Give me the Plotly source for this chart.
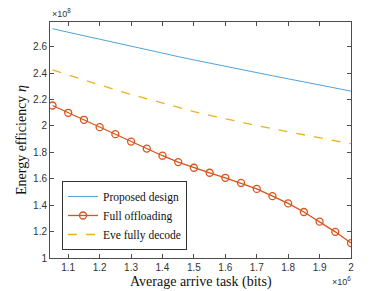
import plotly.graph_objects as go

# Average arrive task (x 10^6 bits)
task = [1.05, 1.10, 1.15, 1.20, 1.25, 1.30, 1.35, 1.40, 1.45, 1.50,
        1.55, 1.60, 1.65, 1.70, 1.75, 1.80, 1.85, 1.90, 1.95, 2.00]

# Energy efficiency (x 10^8)
proposed = [2.735, 2.708, 2.681, 2.654, 2.628, 2.602, 2.576, 2.550, 2.524, 2.499,
            2.474, 2.450, 2.426, 2.402, 2.379, 2.356, 2.333, 2.310, 2.286, 2.263]
full_off = [2.154, 2.099, 2.046, 1.990, 1.937, 1.881, 1.828, 1.774, 1.726, 1.683,
            1.645, 1.607, 1.568, 1.523, 1.468, 1.413, 1.348, 1.275, 1.198, 1.113]
eve = [2.423, 2.384, 2.346, 2.309, 2.273, 2.238, 2.204, 2.171, 2.139, 2.108,
       2.080, 2.053, 2.027, 2.002, 1.978, 1.954, 1.931, 1.909, 1.887, 1.865]

x_ticks = [1.1, 1.2, 1.3, 1.4, 1.5, 1.6, 1.7, 1.8, 1.9, 2.0]
x_ticktext = ["1.1", "1.2", "1.3", "1.4", "1.5", "1.6", "1.7", "1.8", "1.9", "2"]
y_ticks = [1.0, 1.2, 1.4, 1.6, 1.8, 2.0, 2.2, 2.4, 2.6]
y_ticktext = ["1", "1.2", "1.4", "1.6", "1.8", "2", "2.2", "2.4", "2.6"]

BLUE = "#4EA3DC"
ORANGE = "#D95319"
YELLOW = "#EDB120"
AXIS = "#4d4d4d"
SERIF = "Liberation Serif, Times New Roman, serif"
SANS = "Liberation Sans, Arial, sans-serif"

fig = go.Figure()
fig.add_trace(go.Scatter(x=task, y=proposed, mode="lines", name="Proposed design",
                         line=dict(color=BLUE, width=1)))
fig.add_trace(go.Scatter(x=task, y=full_off, mode="lines+markers", name="Full offloading",
                         line=dict(color=ORANGE, width=1.3),
                         marker=dict(symbol="circle-open", size=7, color=ORANGE,
                                     line=dict(width=1.3, color=ORANGE))))
fig.add_trace(go.Scatter(x=task, y=eve, mode="lines", name="Eve fully decode",
                         line=dict(color=YELLOW, width=1.3, dash="dash")))

axis_common = dict(showgrid=False, zeroline=False, showline=True, linecolor=AXIS,
                   linewidth=1, mirror="ticks", ticks="inside", ticklen=4,
                   tickcolor=AXIS, tickfont=dict(family=SANS, size=10, color="#333333"))

fig.update_xaxes(range=[1.042, 2.0], tickvals=x_ticks, ticktext=x_ticktext, **axis_common)
fig.update_yaxes(range=[1.0, 2.786], tickvals=y_ticks, ticktext=y_ticktext, **axis_common)

# the page adds an 8px body margin, so the figure is sized/offset to compensate
fig.update_layout(
    width=380, height=283,
    margin=dict(l=42, r=37, t=14, b=33),
    plot_bgcolor="white", paper_bgcolor="white",
    showlegend=True,
    legend=dict(x=0.04, y=0.034, xanchor="left", yanchor="bottom",
                bgcolor="white", bordercolor="#333333", borderwidth=1,
                font=dict(family=SERIF, size=11.5, color="#111111"),
                itemwidth=30, tracegroupgap=0),
    annotations=[
        dict(text="×10<sup>8</sup>", xref="paper", yref="paper",
             x=0.0, y=1.0, xanchor="left", yanchor="bottom", yshift=1,
             showarrow=False, font=dict(family=SANS, size=9, color="#333333")),
        dict(text="×10<sup>6</sup>", xref="paper", yref="paper",
             x=1.0, y=0.0, xanchor="right", yanchor="top", yshift=-15, xshift=2,
             showarrow=False, font=dict(family=SANS, size=9, color="#333333")),
        dict(text="Average arrive task (bits)", xref="paper", yref="paper",
             x=0.5, y=0.0, xanchor="center", yanchor="top", yshift=-14,
             showarrow=False, font=dict(family=SERIF, size=14, color="#111111")),
        dict(text="Energy efficiency <i>η</i>", xref="paper", yref="paper",
             x=-0.0963, y=0.5, xanchor="center", yanchor="middle", textangle=-90,
             showarrow=False, font=dict(family=SERIF, size=14, color="#111111")),
    ],
)

fig.write_html("out.html")
